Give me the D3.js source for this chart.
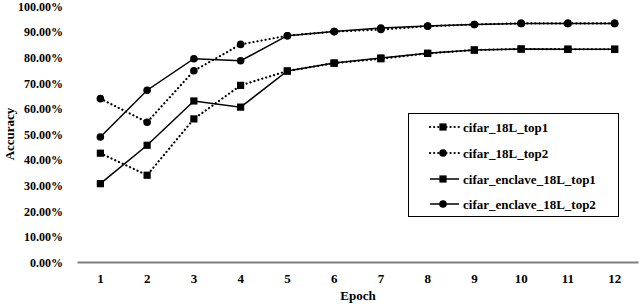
<!DOCTYPE html>
<html><head><meta charset="utf-8">
<script src="https://cdn.jsdelivr.net/npm/d3@7"></script>
<style>
html,body{margin:0;padding:0;background:#fff;}
</style></head>
<body><svg id="chart" width="640" height="304" font-family="Liberation Serif, Times New Roman, serif" font-weight="bold"></svg>
<script>
const epochs = [1,2,3,4,5,6,7,8,9,10,11,12];
const yTicks = [0,0.1,0.2,0.3,0.4,0.5,0.6,0.7,0.8,0.9,1.0];
const cifar18LTop1 = [0.425,0.339,0.559,0.690,0.746,0.777,0.794,0.815,0.828,0.832,0.831,0.831];
const cifar18LTop2 = [0.638,0.546,0.747,0.850,0.884,0.900,0.908,0.921,0.928,0.932,0.932,0.932];
const cifarEnclave18LTop1 = [0.306,0.456,0.629,0.605,0.746,0.777,0.797,0.815,0.828,0.832,0.831,0.831];
const cifarEnclave18LTop2 = [0.488,0.671,0.794,0.786,0.884,0.900,0.914,0.922,0.928,0.932,0.932,0.932];
const seriesNames = ["cifar_18L_top1","cifar_18L_top2","cifar_enclave_18L_top1","cifar_enclave_18L_top2"];

const series = [
  {name: seriesNames[0], values: cifar18LTop1, dotted: true, marker: "square"},
  {name: seriesNames[1], values: cifar18LTop2, dotted: true, marker: "circle"},
  {name: seriesNames[2], values: cifarEnclave18LTop1, dotted: false, marker: "square"},
  {name: seriesNames[3], values: cifarEnclave18LTop2, dotted: false, marker: "circle"}
];

const FONT = "Liberation Serif, Times New Roman, serif";
const svg = d3.select("#chart");
const x = d3.scaleBand().domain(epochs).range([77, 638]).padding(0);
const y = d3.scaleLinear().domain([0, 1]).range([262, 6]);
const cx = d => x(d) + x.bandwidth()/2;
const fmt = d3.format(".2%");

// y tick labels
const yAxis = d3.axisLeft(y).tickValues(yTicks).tickFormat(fmt).tickSize(0).tickPadding(0);
const gy = svg.append("g").attr("transform","translate(63,0)").call(yAxis);
gy.attr("font-family", FONT).attr("font-weight","bold").attr("font-size",12);
gy.select(".domain").remove();
gy.selectAll("text").attr("fill","#000").attr("dy","0.35em");

// x axis
const xAxis = d3.axisBottom(x).tickSize(0).tickPadding(0);
const gx = svg.append("g").attr("transform","translate(0,262)").call(xAxis);
gx.attr("font-family", FONT).attr("font-weight","bold").attr("font-size",13);
gx.select(".domain").attr("stroke","#7f7f7f").attr("stroke-width",2);
gx.selectAll("text").attr("fill","#000").attr("y",16).attr("dy","0.35em");

// titles
svg.append("text").attr("x",358).attr("y",300).attr("text-anchor","middle").attr("font-size",13).text("Epoch");
svg.append("text").attr("transform","translate(14,134) rotate(-90)").attr("text-anchor","middle").attr("font-size",13).text("Accuracy");

const line = d3.line().x((d,i)=>cx(epochs[i])).y(d=>y(d));

function drawMarker(g, type, px, py){
  if(type==="square"){
    g.append("rect").attr("x",px-3.6).attr("y",py-3.6).attr("width",7.2).attr("height",7.2).attr("fill","#000");
  } else {
    g.append("circle").attr("cx",px).attr("cy",py).attr("r",3.8).attr("fill","#000");
  }
}

series.forEach(s => {
  const g = svg.append("g");
  g.append("path").datum(s.values).attr("d",line).attr("fill","none").attr("stroke","#000")
    .attr("stroke-width", s.dotted ? 2.2 : 1.5)
    .attr("stroke-dasharray", s.dotted ? "0.1,4" : null)
    .attr("stroke-linecap", s.dotted ? "round" : "butt");
  s.values.forEach((v,i)=> drawMarker(g, s.marker, cx(epochs[i]), y(v)));
});

// legend
const lg = svg.append("g");
lg.append("rect").attr("x",408.5).attr("y",113.5).attr("width",210).attr("height",103)
  .attr("fill","#fff").attr("stroke","#000").attr("stroke-width",1);
const ly = [127,153,179,204];
series.forEach((s,i)=>{
  const g = lg.append("g");
  g.append("line").attr("x1",430).attr("x2",459).attr("y1",ly[i]).attr("y2",ly[i]).attr("stroke","#000")
    .attr("stroke-width", s.dotted ? 2.2 : 1.5)
    .attr("stroke-dasharray", s.dotted ? "0.1,4" : null)
    .attr("stroke-linecap", s.dotted ? "round" : "butt");
  drawMarker(g, s.marker, 443, ly[i]);
  g.append("text").attr("x",463).attr("y",ly[i]).attr("dy","0.35em").attr("font-size",13).text(s.name);
});
</script></body></html>
